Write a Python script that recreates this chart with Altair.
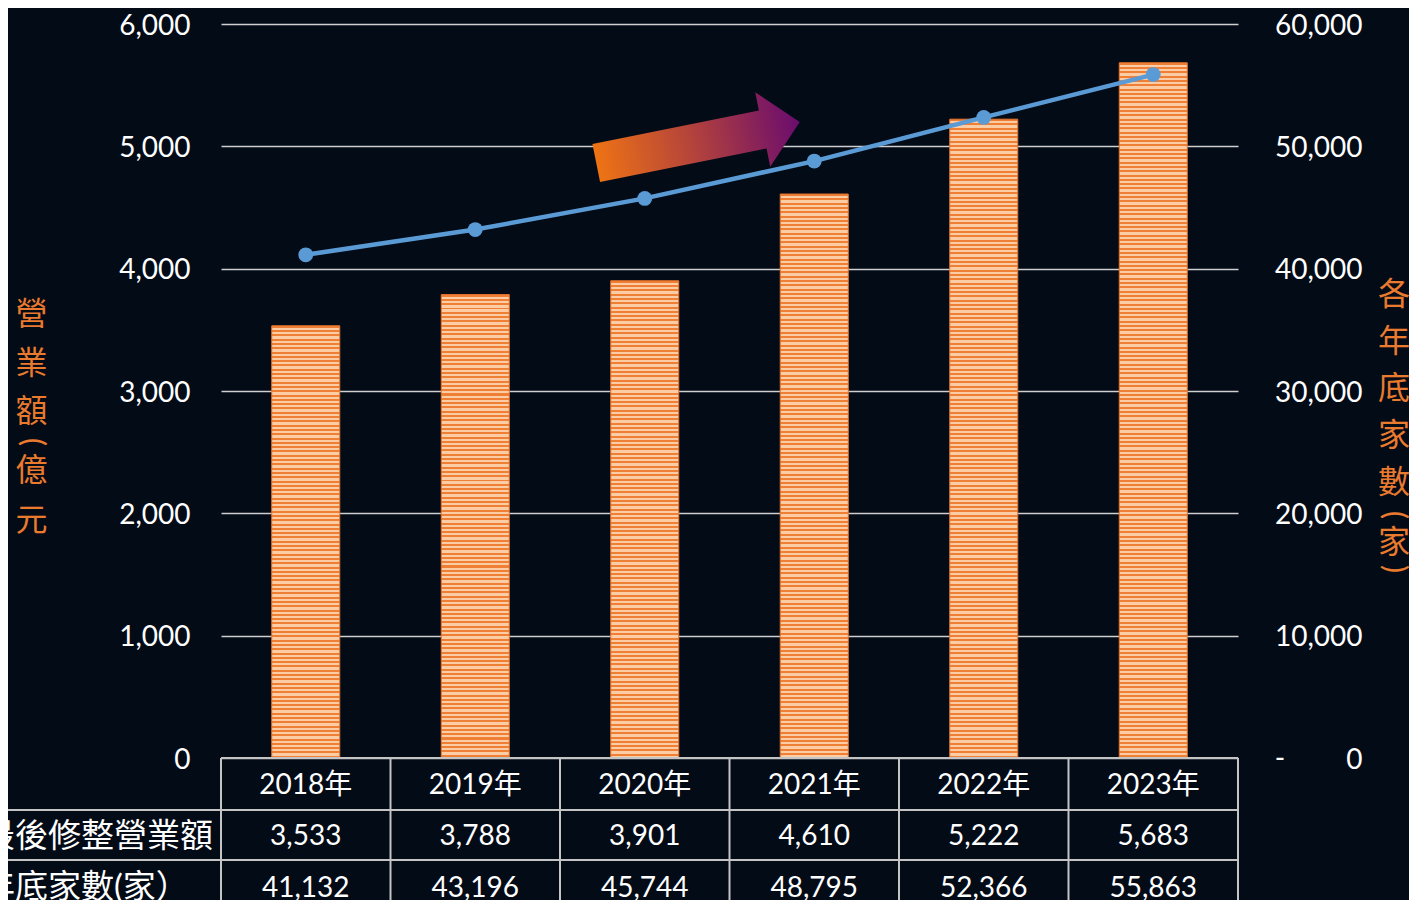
import altair as alt
import pandas as pd

# ---------------- data ----------------
years = ["2018年", "2019年", "2020年", "2021年", "2022年", "2023年"]
revenue = [3533, 3788, 3901, 4610, 5222, 5683]          # 億元 (left axis)
counts = [41132, 43196, 45744, 48795, 52366, 55863]     # 家 (right axis)
left_ticks = [0, 1000, 2000, 3000, 4000, 5000, 6000]
right_ticks = [0, 10000, 20000, 30000, 40000, 50000, 60000]
row_labels = ["最後修整營業額", "年底家數(家）"]
left_title = ["營\n業\n額", "(", "億\n元"]
right_title = ["各\n年\n底\n家\n數", "(", "家", ")"]

# ---------------- style ----------------
BG = "#030b17"
W, H = 1017, 734
REV_MAX, CNT_MAX = 6000, 60000
ORANGE_T = "#E97A2E"
BLUE = "#5B9BD5"
GRID = "#cfcfcf"
TBL = "#c4c4c4"
NUM_FONT = "Lato, Noto Sans CJK TC"
CJK_FONT = "Noto Sans CJK TC"
PERIOD = 4.3
DARK, LIGHT = "#F07F36", "#FCCDA5"

df = pd.DataFrame({"year": years, "revenue": revenue, "count": counts})
one = pd.DataFrame({"k": [0]})


def stripes(h_px):
    stops = []
    k = 0
    while k * PERIOD < h_px:
        a = round(k * PERIOD / h_px, 5)
        b = round(min((k * PERIOD + 2.0) / h_px, 1), 5)
        c = round(min((k + 1) * PERIOD / h_px, 1), 5)
        stops += [{"offset": a, "color": DARK}, {"offset": b, "color": DARK},
                  {"offset": b, "color": LIGHT}, {"offset": c, "color": LIGHT}]
        k += 1
    return {"gradient": "linear", "x1": 0, "y1": 0, "x2": 0, "y2": 1, "stops": stops}


grads = [stripes(v / REV_MAX * H) for v in revenue]
fill = alt.when(alt.datum.year == years[0]).then(alt.value(grads[0]))
for yv, g in zip(years[1:-1], grads[1:-1]):
    fill = fill.when(alt.datum.year == yv).then(alt.value(g))
fill = fill.otherwise(alt.value(grads[-1]))

xscale = alt.Scale(paddingInner=0, paddingOuter=0)
X = alt.X("year:N", axis=None, sort=years, scale=xscale)
LBL = "format(datum.value, ',')"

bars = alt.Chart(df).mark_bar(size=68, stroke="#E8762E", strokeWidth=1).encode(
    x=X,
    y=alt.Y("revenue:Q", scale=alt.Scale(domain=[0, REV_MAX], nice=False),
            axis=alt.Axis(orient="left", values=left_ticks, labelExpr=LBL, title=None,
                          ticks=False, domain=False, grid=True, gridColor=GRID,
                          gridWidth=1.5, labelColor="white", labelFont=NUM_FONT,
                          labelFontSize=28, labelPadding=31, labelBaseline="middle",
                          labelOffset=2)),
    fill=fill,
)

ycnt = alt.Y("count:Q", scale=alt.Scale(domain=[0, CNT_MAX], nice=False),
             axis=alt.Axis(orient="right", values=right_ticks, labelExpr=LBL, title=None,
                           ticks=False, domain=False, grid=False, labelColor="white",
                           labelFont=NUM_FONT, labelFontSize=28, labelAlign="right",
                           labelPadding=124, labelBaseline="middle", labelOffset=2))
line = alt.Chart(df).mark_line(color=BLUE, strokeWidth=4.5).encode(x=X, y=ycnt)
pts = alt.Chart(df).mark_circle(size=220, color=BLUE, opacity=1).encode(x=X, y=ycnt)
line_layer = alt.layer(line, pts)

ARROW = "M -1 -0.186 L 0.636 -0.186 L 0.636 -0.366 L 1 0 L 0.636 0.366 L 0.636 0.186 L -1 0.186 Z"
arrow_grad = {"gradient": "linear", "x1": 0, "y1": 0, "x2": 1, "y2": 0,
              "stops": [{"offset": 0, "color": "#EE7314"},
                        {"offset": 0.5, "color": "#B0403E"},
                        {"offset": 1, "color": "#6A0C6E"}]}
arrow = alt.Chart(one).mark_point(shape=ARROW, filled=True, opacity=1, size=43100,
                                  angle=348.6, strokeWidth=0, fill=arrow_grad).encode(
    x=alt.value(477), y=alt.value(118.5))

# ---------------- table ----------------
vlines = alt.Chart(df).mark_rule(color=TBL, strokeWidth=2).encode(
    x=alt.X("year:N", axis=None, sort=years, scale=xscale, bandPosition=0),
    y=alt.value(734), y2=alt.value(900))
vlast = alt.Chart(df).transform_filter(alt.datum.year == years[-1]).mark_rule(
    color=TBL, strokeWidth=2).encode(
    x=alt.X("year:N", axis=None, sort=years, scale=xscale, bandPosition=1),
    y=alt.value(734), y2=alt.value(900))
htop = alt.Chart(one).mark_rule(color=TBL, strokeWidth=2).encode(
    x=alt.value(0), x2=alt.value(W), y=alt.value(734))
hrow1 = alt.Chart(one).mark_rule(color=TBL, strokeWidth=2).encode(
    x=alt.value(-230), x2=alt.value(W), y=alt.value(786))
hrow2 = alt.Chart(one).mark_rule(color=TBL, strokeWidth=2).encode(
    x=alt.value(-230), x2=alt.value(W), y=alt.value(836))

tkw = dict(color="white", font=NUM_FONT, fontSize=28, align="center", baseline="middle")
t_year = alt.Chart(df).mark_text(**tkw).encode(x=X, y=alt.value(762), text="year:N")
t_rev = alt.Chart(df).mark_text(**tkw).encode(x=X, y=alt.value(813),
                                               text=alt.Text("revenue:Q", format=","))
t_cnt = alt.Chart(df).mark_text(**tkw).encode(x=X, y=alt.value(865),
                                               text=alt.Text("count:Q", format=","))
lkw = dict(color="white", font=NUM_FONT, fontSize=33, align="left", baseline="middle")
r1 = alt.Chart(one).mark_text(**lkw).encode(x=alt.value(-239), y=alt.value(813),
                                            text=alt.value(row_labels[0]))
r2 = alt.Chart(one).mark_text(**lkw).encode(x=alt.value(-239), y=alt.value(864),
                                            text=alt.value(row_labels[1]))
dash0 = alt.Chart(one).mark_text(**tkw).encode(x=alt.value(1059), y=alt.value(736),
                                               text=alt.value("-"))

# ---------------- vertical titles ----------------
vkw = dict(color=ORANGE_T, font=CJK_FONT, fontSize=32, align="center", lineBreak="\n")
pkw = dict(color=ORANGE_T, font="Lato", fontSize=30, align="center", baseline="middle",
           angle=90)
LX, RX = -189.5, 1173
lt1 = alt.Chart(one).mark_text(baseline="top", lineHeight=48.5, **vkw).encode(
    x=alt.value(LX), y=alt.value(276), text=alt.value(left_title[0]))
lt2 = alt.Chart(one).mark_text(**pkw).encode(
    x=alt.value(LX), y=alt.value(418), text=alt.value(left_title[1]))
lt3 = alt.Chart(one).mark_text(baseline="top", lineHeight=50, **vkw).encode(
    x=alt.value(LX), y=alt.value(432), text=alt.value(left_title[2]))
rt1 = alt.Chart(one).mark_text(baseline="top", lineHeight=47, **vkw).encode(
    x=alt.value(RX), y=alt.value(256), text=alt.value(right_title[0]))
rt2 = alt.Chart(one).mark_text(**pkw).encode(
    x=alt.value(RX), y=alt.value(491), text=alt.value(right_title[1]))
rt3 = alt.Chart(one).mark_text(baseline="top", **vkw).encode(
    x=alt.value(RX), y=alt.value(504), text=alt.value(right_title[2]))
rt4 = alt.Chart(one).mark_text(**pkw).encode(
    x=alt.value(RX), y=alt.value(545), text=alt.value(right_title[3]))

chart = alt.layer(
    bars, line_layer, arrow,
    vlines, vlast, htop, hrow1, hrow2,
    t_year, t_rev, t_cnt, r1, r2, dash0,
    lt1, lt2, lt3, rt1, rt2, rt3, rt4,
).resolve_scale(y="independent").properties(
    width=W, height=H,
    padding={"left": 213, "top": 16, "right": 171, "bottom": 142},
    autosize=alt.AutoSizeParams(type="none"),
    background=BG,
).configure_view(stroke=None)

chart.save("out.html", embed_options={"renderer": "svg", "actions": False})
